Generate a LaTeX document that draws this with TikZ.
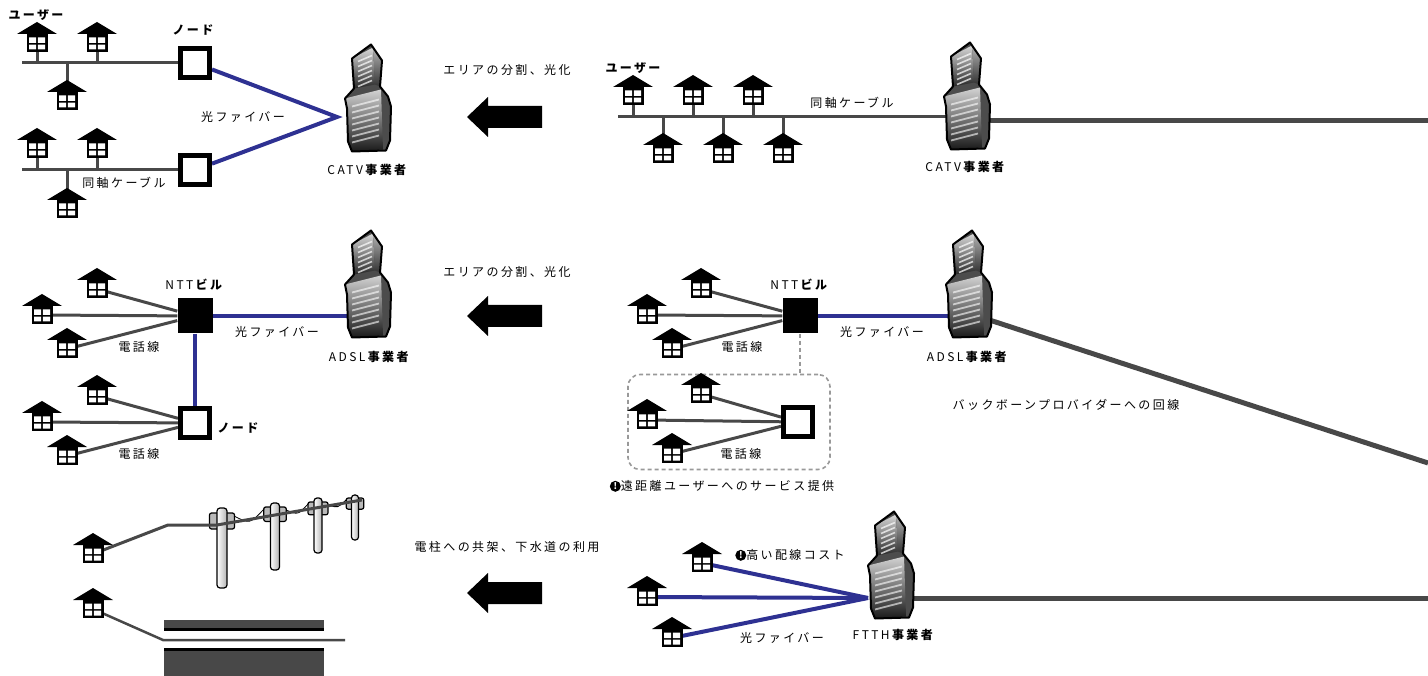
\documentclass[tikz,border=0pt]{standalone}
\usepackage{fontspec}
\setmainfont{Noto Sans CJK JP}[LetterSpace=20]
\usetikzlibrary{backgrounds}

\definecolor{fiber}{RGB}{46,49,146}
\definecolor{cable}{RGB}{72,72,72}

\tikzset{
  house/.pic={
    \fill (-20,-9) -- (0,-21) -- (20,-9) -- cycle;
    \fill (-10.5,-10) rectangle (10.5,9);
    \fill[white] (-8,-5.5) rectangle (-0.9,0) (0.9,-5.5) rectangle (8,0)
                 (-8,1.6) rectangle (-0.9,6.5) (0.9,1.6) rectangle (8,6.5);
  },
  building/.pic={
    \begin{scope}[shift={(-24,-53.5)}]
      \fill[black!70] (28,0) -- (39,16) -- (37,42) -- (45,52) -- (48,62) -- (47,96) -- (43,106)
        -- (9,107) -- (5,97) -- (4,64) -- (2,54) -- (11,44) -- (9,14) -- cycle;
      \shade[top color=gray!30, bottom color=black!85] (9,14) -- (30,3) -- (32,40) -- (11,44) -- cycle;
      \shade[top color=gray!35, bottom color=black!90] (2,54) -- (38,45) -- (40,105) -- (9,107) -- (5,97) -- (4,64) -- cycle;
      \shade[top color=gray!60, bottom color=black!80] (30,3) -- (39,16) -- (37,42) -- (32,40) -- cycle;
      \foreach \k in {0,...,5}
        \draw[white, opacity=0.7, line width=1.6pt] (15,{17+5*\k}) -- (29,{11+5*\k});
      \foreach \k in {0,...,6}
        \draw[white, opacity=0.6, line width=1.8pt] (9,{62+6*\k}) -- (36,{55+6*\k});
      \draw[line width=2pt, line join=round] (28,0) -- (39,16) -- (37,42) -- (45,52) -- (48,62) -- (47,96) -- (43,106)
        -- (9,107) -- (5,97) -- (4,64) -- (2,54) -- (11,44) -- (9,14) -- cycle;
    \end{scope}
  },
  hnode/.style={minimum width=40pt, minimum height=42pt, inner sep=0pt},
  bnode/.style={minimum width=54pt, minimum height=114pt, inner sep=0pt},
  nodebox/.style={draw, line width=5pt, fill=white, minimum size=29pt, inner sep=0pt},
  nttbox/.style={fill=black, minimum size=35pt, inner sep=0pt},
  lbl/.style={inner sep=1pt, font=\fontsize{12}{14}\selectfont},
  blbl/.style={lbl, font=\bfseries\fontsize{12}{14}\selectfont},
  coax/.style={draw=cable, line width=3pt},
  fiberline/.style={draw=fiber, line width=4pt},
  backbone/.style={draw=cable, line width=5pt},
  grpline/.style={draw=gray!80, line width=1.6pt, dash pattern=on 4pt off 3pt},
}

\newcommand\warnmark{\tikz[baseline=-4pt]\node[circle, fill=black, text=white, inner sep=0pt,
  minimum size=11pt, font=\bfseries\fontsize{9}{9}\selectfont\addfontfeature{LetterSpace=0}] {!};}

\begin{document}
\begin{tikzpicture}[x=1pt, y=-1pt]
  \useasboundingbox (0,0) rectangle (1428,676);

  % CATV split into nodes
  \node[blbl] (usr1) at (36,15) {ユーザー};
  \node[hnode] (a1) at (37,43) {};
  \node[hnode] (a2) at (97,43) {};
  \node[hnode] (a3) at (67,101) {};
  \node[nodebox] (n1) at (195,63) {};
  \node[blbl] (nodelbl1) at (193,30) {ノード};
  \node[hnode] (b1) at (37,149) {};
  \node[hnode] (b2) at (97,149) {};
  \node[hnode] (b3) at (67,209) {};
  \node[nodebox] (n2) at (195,170) {};
  \node[lbl] (coax1) at (124,183) {同軸ケーブル};
  \node[lbl] (fib1) at (243,117) {光ファイバー};
  \node[bnode] (op1) at (367,98) {};
  \node[lbl] (catv1) at (368,170) {CATV\textbf{事業者}};
  \coordinate (hub1) at (337,117);
  \coordinate (a0) at (22,63);
  \coordinate (b0) at (22,170);

  % CATV before
  \node[blbl] (usr2) at (633,68) {ユーザー};
  \node[hnode] (c1) at (633,96) {};
  \node[hnode] (c2) at (693,96) {};
  \node[hnode] (c3) at (753,96) {};
  \node[hnode] (c4) at (663,154) {};
  \node[hnode] (c5) at (723,154) {};
  \node[hnode] (c6) at (783,154) {};
  \node[lbl] (coax2) at (852,103) {同軸ケーブル};
  \node[bnode] (op2) at (966,96) {};
  \node[lbl] (catv2) at (966,167) {CATV\textbf{事業者}};
  \coordinate (c0) at (618,117);
  \coordinate (bb1) at (1428,121);

  % ADSL with nodes
  \node[nttbox] (t1) at (195,316) {};
  \node[lbl] (ntt1) at (195,285) {NTT\textbf{ビル}};
  \node[hnode] (g1) at (97,289) {};
  \node[hnode] (g2) at (42,315) {};
  \node[hnode] (g3) at (67,349) {};
  \node[lbl] (tel1) at (139,347) {電話線};
  \node[nodebox] (n3) at (195,423) {};
  \node[blbl] (nodelbl2) at (238,428) {ノード};
  \node[hnode] (h1) at (97,396) {};
  \node[hnode] (h2) at (42,422) {};
  \node[hnode] (h3) at (67,456) {};
  \node[lbl] (tel2) at (139,454) {電話線};
  \node[lbl] (fib2) at (277,332) {光ファイバー};
  \node[bnode] (op3) at (367,284) {};
  \node[lbl] (adsl1) at (370,357) {ADSL\textbf{事業者}};

  % ADSL before
  \node[nttbox] (t2) at (800,316) {};
  \node[lbl] (ntt2) at (800,285) {NTT\textbf{ビル}};
  \node[hnode] (f1) at (701,289) {};
  \node[hnode] (f2) at (647,315) {};
  \node[hnode] (f3) at (672,349) {};
  \node[lbl] (tel3) at (742,347) {電話線};
  \node[lbl] (fib3) at (882,332) {光ファイバー};
  \node[bnode] (op4) at (968,284) {};
  \node[lbl] (adsl2) at (968,357) {ADSL\textbf{事業者}};
  \node[draw=gray!80, line width=1.6pt, dash pattern=on 4pt off 3pt, rounded corners=12pt,
    minimum width=202pt, minimum height=95pt] (grp) at (729,422) {};
  \node[nodebox] (n4) at (798,422) {};
  \node[hnode] (e1) at (701,394) {};
  \node[hnode] (e2) at (647,420) {};
  \node[hnode] (e3) at (672,454) {};
  \node[lbl] (tel4) at (741,454) {電話線};
  \node[lbl] (far) at (722,486) {\warnmark 遠距離ユーザーへのサービス提供};
  \node[lbl] (bbl) at (1066,405) {バックボーンプロバイダーへの回線};
  \coordinate (bb2a) at (968,313);
  \coordinate (bb2b) at (1428,463);

  % poles and sewer
  \node[hnode] (p1) at (93,554) {};
  \node[hnode] (p2) at (93,609) {};
  \coordinate (q1) at (168,525);
  \coordinate (q2) at (217,525);
  \coordinate (q3) at (362,500);
  \coordinate (q4) at (163,640);
  \coordinate (q5) at (345,640);

  % FTTH
  \node[hnode] (k1) at (702,563) {};
  \node[hnode] (k2) at (647,597) {};
  \node[hnode] (k3) at (672,638) {};
  \node[lbl] (cost) at (790,555) {\warnmark 高い配線コスト};
  \node[lbl] (fib4) at (782,638) {光ファイバー};
  \node[bnode] (op5) at (890,565) {};
  \node[lbl] (ftth) at (894,635) {FTTH\textbf{事業者}};
  \coordinate (hub2) at (868,598);
  \coordinate (bb3) at (1428,598);

  % icons
  \foreach \h in {a1,a2,a3,b1,b2,b3,c1,c2,c3,c4,c5,c6,g1,g2,g3,h1,h2,h3,f1,f2,f3,e1,e2,e3,p1,p2,k1,k2,k3}
    \pic at (\h) {house};
  \foreach \b in {op1,op2,op3,op4,op5}
    \pic at (\b) {building};

  % arrows between the panels
  \node[lbl] (arr1) at (507,70) {エリアの分割、光化};
  \node[lbl] (arr2) at (507,272) {エリアの分割、光化};
  \node[lbl] (arr3) at (507,547) {電柱への共架、下水道の利用};
  \foreach \y in {117,316,593}
    \fill (542,{\y-11}) -- (488,{\y-11}) -- (488,{\y-20}) -- (467,\y) -- (488,{\y+20})
      -- (488,{\y+11}) -- (542,{\y+11}) -- cycle;

  \begin{pgfonlayer}{background}
    \draw[coax] (a0) -- (n1);
    \foreach \h in {a1,a2,a3} \draw[coax] (\h.center) -- (\h.center |- n1);
    \draw[coax] (b0) -- (n2);
    \foreach \h in {b1,b2,b3} \draw[coax] (\h.center) -- (\h.center |- n2);
    \draw[fiberline, line join=miter] (n1) -- (hub1) -- (n2);

    \draw[coax] (c0) -- (op2 |- c0);
    \foreach \h in {c1,c2,c3,c4,c5,c6} \draw[coax] (\h.center) -- (\h.center |- c0);
    \draw[backbone] (op2 |- bb1) -- (bb1);

    \foreach \h in {g1,g2,g3} \draw[coax] (\h.center) -- (t1);
    \foreach \h in {h1,h2,h3} \draw[coax] (\h.center) -- (n3);
    \draw[fiberline] (op3 |- t1) -- (t1) -- (n3);

    \foreach \h in {f1,f2,f3} \draw[coax] (\h.center) -- (t2);
    \foreach \h in {e1,e2,e3} \draw[coax] (\h.center) -- (n4);
    \draw[fiberline] (t2) -- (op4 |- t2);
    \draw[grpline] (t2) -- (t2 |- grp.north);
    \draw[backbone] (bb2a) -- (bb2b);

    % poles
    \foreach \x/\t/\b/\w/\a in {222/508/588/10/513, 275/503/570/9/507, 318/498/553/8/502, 355/495/540/7/498} {
      \draw[line width=1.2pt, fill=gray!55, rounded corners=2pt] ({\x-1.25*\w},\a) rectangle ({\x+1.25*\w},{\a+1.6*\w});
      \draw[line width=1.2pt, left color=white, right color=gray!60, rounded corners=3pt] ({\x-\w/2},\t) rectangle ({\x+\w/2},\b);
    }
    \draw[line width=0.8pt] (234,516) .. controls (250,524) .. (264,509);
    \draw[line width=0.8pt] (286,510) .. controls (298,515) .. (308,504);
    \draw[line width=0.8pt] (328,505) .. controls (338,508) .. (346,500);
    \draw[coax] (p1.center) -- (q1) -- (q2) -- (q3);

    % sewer
    \fill[cable] (164,620) rectangle (324,630);
    \fill (164,628) rectangle (324,631);
    \fill[cable] (164,648) rectangle (324,676);
    \fill (164,648) rectangle (324,651);
    \draw[coax, line width=2.5pt] (p2.center) -- (q4) -- (q5);

    \foreach \h in {k1,k2,k3} \draw[fiberline] (\h.center) -- (hub2);
    \draw[backbone] (op5 |- bb3) -- (bb3);
  \end{pgfonlayer}
\end{tikzpicture}
\end{document}
